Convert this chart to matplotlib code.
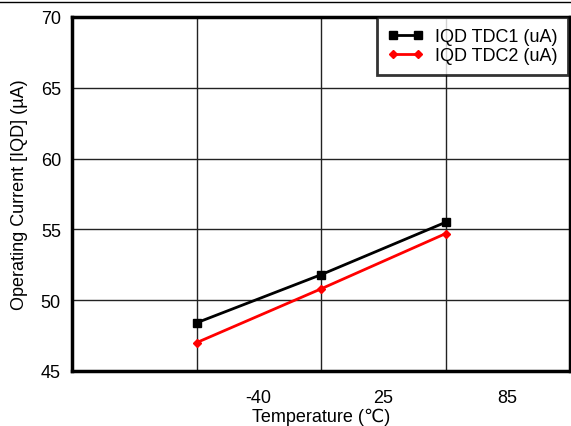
import matplotlib
matplotlib.use("Agg")
import matplotlib.pyplot as plt
from matplotlib.lines import Line2D

plt.rcParams['font.family'] = ['Liberation Sans', 'DejaVu Sans']

# data
temps = ["-40", "25", "85"]
iqd_tdc1 = [48.4, 51.8, 55.5]
iqd_tdc2 = [47.0, 50.8, 54.7]

pos = [1, 2, 3]

fig = plt.figure(figsize=(5.71, 4.27), dpi=100)
ax = fig.add_axes([72 / 571, 55 / 427, 498 / 571, 354 / 427])

ax.plot(pos, iqd_tdc1, color='black', lw=2, marker='s', ms=5.5,
        label='IQD TDC1 (uA)')
ax.plot(pos, iqd_tdc2, color='red', lw=2, marker='D', ms=4.5,
        label='IQD TDC2 (uA)')

ax.set_xlim(0, 4)
ax.set_ylim(45, 70)
ax.set_yticks([45, 50, 55, 60, 65, 70])
ax.set_xticks(pos)
ax.set_xticklabels([])
ax.set_xticks([1.5, 2.5, 3.5], minor=True)
ax.set_xticklabels(temps, minor=True)
ax.tick_params(axis='x', which='both', length=0, labelsize=13, pad=13)
ax.tick_params(axis='y', length=0, labelsize=13, pad=8)
ax.grid(True, which='major', color='#222222', lw=1)
ax.set_axisbelow(True)

for s in ax.spines.values():
    s.set_linewidth(2.5)
    s.set_color('black')

ax.set_xlabel("Temperature (℃)", fontsize=13, labelpad=1)
ax.set_ylabel("Operating Current [IQD] (µA)", fontsize=13, labelpad=9)

leg = ax.legend(loc='upper right', bbox_to_anchor=(0.996, 1.0), fontsize=13,
                numpoints=2, handlelength=2.0, frameon=True, fancybox=False,
                borderaxespad=0, borderpad=0.6, labelspacing=0.12,
                handletextpad=0.6)
leg.get_frame().set_edgecolor('black')
leg.get_frame().set_linewidth(2)

# thin rule at the top of the image
fig.add_artist(Line2D([0, 1], [1 - 2.5 / 427, 1 - 2.5 / 427], color='black', lw=1))

fig.savefig("out.png", dpi=100)
